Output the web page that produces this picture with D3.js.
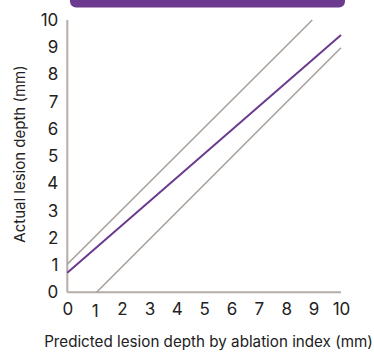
<!DOCTYPE html>
<html><head><meta charset="utf-8">
<script src="https://cdn.jsdelivr.net/npm/d3@7"></script>
<style>body{margin:0;background:#fff}svg{display:block}text{font-family:Inter, "Liberation Sans", sans-serif}</style>
</head><body>
<svg id="c" width="374" height="354"></svg>
<script>
const xTicks = [0,1,2,3,4,5,6,7,8,9,10];
const yTicks = [0,1,2,3,4,5,6,7,8,9,10];
const upperX = [0, 8.95];
const upperY = [1.03, 10];
const meanX = [0, 10];
const meanY = [0.72, 9.45];
const lowerX = [1.07, 10];
const lowerY = [0, 8.98];
const xLabel = "Predicted lesion depth by ablation index (mm)";
const yLabel = "Actual lesion depth (mm)";

const svg = d3.select("#c");
const x = d3.scaleLinear().domain([0,10]).range([67.3,341]);
const y = d3.scaleLinear().domain([0,10]).range([292.3,20]);
const axisCol = "#b5ada8";

// banner
svg.append("rect").attr("x",70).attr("y",-12).attr("width",275).attr("height",19.5).attr("rx",6).attr("fill","#6b3a8e");

// axes
const xa = svg.append("g").attr("transform",`translate(0,${y(0)})`).call(d3.axisBottom(x).tickValues(xTicks).tickSize(0).tickPadding(11).tickFormat(d3.format("d")));
const ya = svg.append("g").attr("transform",`translate(${x(0)},0)`).call(d3.axisLeft(y).tickValues(yTicks).tickSize(0).tickPadding(9).tickFormat(d3.format("d")));
[xa,ya].forEach(g=>{
  g.select(".domain").attr("stroke",axisCol).attr("stroke-width",2);
  g.selectAll("text").attr("font-size",17).attr("fill","#222").style("font-family","Inter, 'Liberation Sans', sans-serif");
});
xa.selectAll(".tick text").filter(d=>d===1).attr("y",13);
xa.select(".domain").attr("d",`M${x(0)},0H${x(10)}`);
ya.select(".domain").attr("d",`M0,${y(0)}V${y(10)}`);

const line = d3.line().x(d=>x(d[0])).y(d=>y(d[1]));
const mk = (xs,ys)=>xs.map((v,i)=>[v,ys[i]]);
svg.append("path").attr("d",line(mk(upperX,upperY))).attr("stroke","#aaa19c").attr("stroke-width",1.6).attr("fill","none");
svg.append("path").attr("d",line(mk(lowerX,lowerY))).attr("stroke","#aaa19c").attr("stroke-width",1.6).attr("fill","none");
svg.append("path").attr("d",line(mk(meanX,meanY))).attr("stroke","#6b3a8e").attr("stroke-width",2).attr("fill","none");

svg.append("text").attr("x",208.5).attr("y",347).attr("text-anchor","middle").attr("font-size",15.2).attr("fill","#222").text(xLabel);
svg.append("text").attr("transform","translate(25,154) rotate(-90)").attr("text-anchor","middle").attr("font-size",15).attr("fill","#222").text(yLabel);
</script>
</body></html>
